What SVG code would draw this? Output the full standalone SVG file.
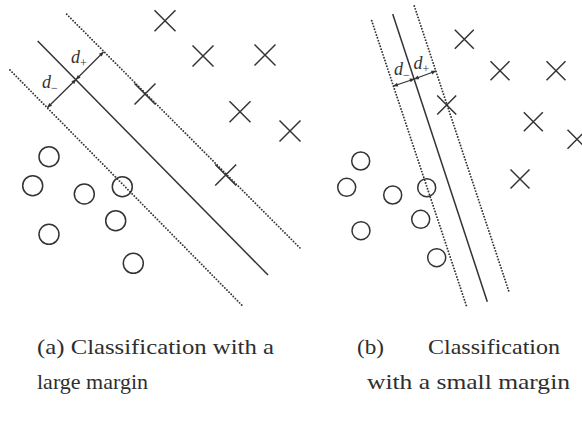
<svg xmlns="http://www.w3.org/2000/svg" width="582" height="422" viewBox="0 0 582 422">
<style>
  .solid{stroke:#333;stroke-width:1.5;fill:none}
  .dot{stroke:#333;stroke-width:1.9;fill:none;stroke-dasharray:0 3;stroke-linecap:round}
  .x{stroke:#333;stroke-width:1.5;fill:none}
  .o{stroke:#333;stroke-width:1.5;fill:none}
  .arr{stroke:#333;stroke-width:1.3;fill:none;marker-start:url(#ah);marker-end:url(#ah)}
  .cap{font-family:"Liberation Serif",serif;font-size:21px;fill:#2e2e2e}
  .lab{font-family:"Liberation Serif",serif;font-style:italic;font-size:18px;fill:#333}
  .sub{font-family:"Liberation Serif",serif;font-size:12px;fill:#333}
</style>
<defs>
  <marker id="ah" viewBox="0 0 10 10" refX="9" refY="5" markerWidth="6" markerHeight="5" orient="auto-start-reverse" markerUnits="userSpaceOnUse">
    <path d="M0,1 L10,5 L0,9 z" fill="#333"/>
  </marker>
  <g id="cx"><path d="M-10.5,-10.5 L10.5,10.5 M10.5,-10.5 L-10.5,10.5"/></g>
  <g id="cxs"><path d="M-9.5,-9.5 L9.5,9.5 M9.5,-9.5 L-9.5,9.5"/></g>
</defs>
<rect width="582" height="422" fill="#ffffff"/>

<g id="lines-a">
  <line class="solid" x1="37.7" y1="41" x2="268" y2="275"/>
  <line class="dot" x1="66.7" y1="14.3" x2="300" y2="248"/>
  <line class="dot" x1="10" y1="70" x2="241.7" y2="305"/>
</g>
<g id="lines-b">
  <line class="solid" x1="392.7" y1="14" x2="487.3" y2="301.7"/>
  <line class="dot" x1="371.7" y1="20.7" x2="466.7" y2="306.7"/>
  <line class="dot" x1="414.3" y1="6" x2="509.3" y2="292.7"/>
</g>

<g id="connectors">
  <line class="arr" x1="76" y1="79.5" x2="47.5" y2="107.5"/>
  <line class="arr" x1="76" y1="79.5" x2="103.5" y2="52"/>
  <line class="arr" x1="414.3" y1="79" x2="393.4" y2="86"/>
  <line class="arr" x1="414.3" y1="79" x2="435.8" y2="71"/>
</g>

<g id="labels">
  <text class="lab" x="71" y="63">d</text><text class="sub" x="80" y="67">+</text>
  <text class="lab" x="42" y="88">d</text><text class="sub" x="51" y="92">−</text>
  <text class="lab" x="394" y="75">d</text><text class="sub" x="403" y="79">−</text>
  <text class="lab" x="413.5" y="69">d</text><text class="sub" x="422.5" y="73">+</text>
</g>

<g id="crosses-a" class="x">
  <g id="xa1"><use href="#cx" x="165" y="20.7"/></g>
  <g id="xa2"><use href="#cx" x="203" y="56"/></g>
  <g id="xa3"><use href="#cx" x="265" y="55"/></g>
  <g id="xa4"><use href="#cx" x="145" y="94"/></g>
  <g id="xa5"><use href="#cx" x="240" y="111.7"/></g>
  <g id="xa6"><use href="#cx" x="290" y="131"/></g>
  <g id="xa7"><use href="#cx" x="225.7" y="175"/></g>
</g>
<g id="circles-a">
  <g id="oa1"><circle class="o" cx="49" cy="156.7" r="10"/></g>
  <g id="oa2"><circle class="o" cx="32.7" cy="185.7" r="10"/></g>
  <g id="oa3"><circle class="o" cx="84.3" cy="194" r="10"/></g>
  <g id="oa4"><circle class="o" cx="122.3" cy="186.7" r="10"/></g>
  <g id="oa5"><circle class="o" cx="115.7" cy="220.7" r="10"/></g>
  <g id="oa6"><circle class="o" cx="49" cy="234.3" r="10"/></g>
  <g id="oa7"><circle class="o" cx="133.3" cy="263.3" r="10"/></g>
</g>

<g id="crosses-b" class="x">
  <g id="xb1"><use href="#cxs" x="464.3" y="39.3"/></g>
  <g id="xb2"><use href="#cxs" x="500" y="70.7"/></g>
  <g id="xb3"><use href="#cxs" x="556" y="70.7"/></g>
  <g id="xb4"><use href="#cxs" x="446.7" y="105"/></g>
  <g id="xb5"><use href="#cxs" x="533.3" y="121.7"/></g>
  <g id="xb6"><use href="#cxs" x="577" y="139.3"/></g>
  <g id="xb7"><use href="#cxs" x="520" y="179"/></g>
</g>
<g id="circles-b">
  <g id="ob1"><circle class="o" cx="360.7" cy="161" r="9"/></g>
  <g id="ob2"><circle class="o" cx="346.7" cy="187.3" r="9"/></g>
  <g id="ob3"><circle class="o" cx="392.7" cy="195" r="9"/></g>
  <g id="ob4"><circle class="o" cx="426.7" cy="187.7" r="9"/></g>
  <g id="ob5"><circle class="o" cx="420.7" cy="219.3" r="9"/></g>
  <g id="ob6"><circle class="o" cx="361" cy="230.7" r="9"/></g>
  <g id="ob7"><circle class="o" cx="436.7" cy="257.7" r="9"/></g>
</g>

<g id="captions">
  <text class="cap" x="37" y="354" textLength="237" lengthAdjust="spacingAndGlyphs">(a) Classification with a</text>
  <text class="cap" x="37" y="389" textLength="111" lengthAdjust="spacingAndGlyphs">large margin</text>
  <text class="cap" x="357" y="354" textLength="27" lengthAdjust="spacingAndGlyphs">(b)</text>
  <text class="cap" x="428" y="354" textLength="132" lengthAdjust="spacingAndGlyphs">Classification</text>
  <text class="cap" x="367" y="389" textLength="203" lengthAdjust="spacingAndGlyphs">with a small margin</text>
</g>
</svg>
